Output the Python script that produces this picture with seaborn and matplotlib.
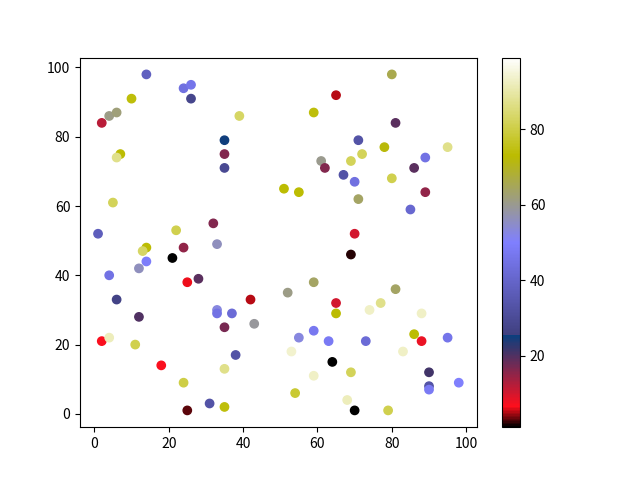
import matplotlib
matplotlib.use("Agg")
import matplotlib.pyplot as plt
import seaborn as sns
import pandas as pd
from matplotlib.colors import Normalize
from matplotlib.cm import ScalarMappable

plt.rcParams['font.family'] = ['Noto Sans CJK SC', 'DejaVu Sans']

xs = [1, 2, 4, 6, 10, 14, 24, 26, 26, 39, 7, 6, 5, 35, 35, 35, 32, 22,
      80, 65, 59, 81, 71, 78, 95, 61, 62, 69, 72, 67, 70, 89, 86, 80, 71, 51, 55, 89, 85, 74, 70,
      69, 33, 24, 14, 13, 14, 21, 12, 4, 25, 28, 6, 42, 43, 12, 33, 33, 37, 35, 38,
      2, 4, 11, 18, 24, 35, 31, 25, 35,
      52, 59, 65, 65, 55, 59, 63, 73, 53, 64, 69, 59, 68, 54, 70, 79,
      77, 74, 81, 86, 88, 88, 83, 95, 90, 90, 90, 98]
ys = [52, 84, 86, 87, 91, 98, 94, 95, 91, 86, 75, 74, 61, 79, 75, 71, 55, 53,
      98, 92, 87, 84, 79, 77, 77, 73, 71, 73, 75, 69, 67, 74, 71, 68, 62, 65, 64, 64, 59, 57, 52,
      46, 49, 48, 48, 47, 44, 45, 42, 40, 38, 39, 33, 33, 26, 28, 30, 29, 29, 25, 17,
      21, 22, 20, 14, 9, 13, 3, 1, 2,
      35, 38, 32, 29, 22, 24, 21, 21, 18, 15, 12, 11, 4, 6, 1, 1,
      32, 30, 36, 23, 21, 29, 18, 22, 12, 8, 7, 9]
cs = [37, 12, 61, 62, 74, 38, 44, 46, 28, 83, 73, 87, 82, 25, 16, 29, 16, 81,
      66, 5, 74, 19, 33, 72, 87, 60, 16, 82, 82, 33, 44, 45, 19, 81, 64, 73, 73, 15, 41, 99, 10,
      2, 56, 15, 73, 83, 49, 1, 56, 45, 6, 19, 27, 5, 59, 20, 53, 45, 42, 17, 33,
      7, 92, 81, 7, 80, 87, 33, 3, 74,
      61, 64, 10, 73, 53, 47, 48, 42, 94, 1, 82, 93, 92, 78, 1, 81,
      87, 93, 64, 73, 8, 93, 93, 46, 21, 33, 48, 50]

df = pd.DataFrame({'x': xs, 'y': ys, 'c': cs})
vmin, vmax = min(cs), max(cs)

fig, ax = plt.subplots(figsize=(6.4, 4.8), dpi=100)
sns.scatterplot(data=df, x='x', y='y', hue='c', palette='gist_stern',
                hue_norm=(vmin, vmax), s=36, linewidth=1, edgecolor='face',
                legend=False, ax=ax)
ax.set_xlabel('')
ax.set_ylabel('')
sm = ScalarMappable(norm=Normalize(vmin, vmax), cmap='gist_stern')
fig.colorbar(sm, ax=ax)
fig.savefig('out.png', dpi=100)
